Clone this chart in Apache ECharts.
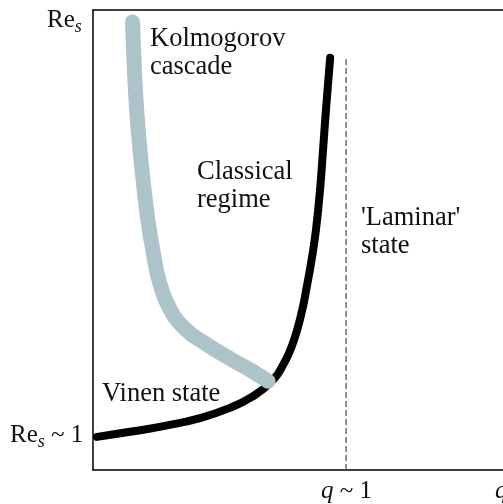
<!DOCTYPE html>
<html><head><meta charset="utf-8">
<script src="https://cdn.jsdelivr.net/npm/echarts@6/dist/echarts.min.js"></script>
<style>html,body{margin:0;padding:0;background:#fff}#c{width:503px;height:504px}</style>
</head><body><div id="c"></div>
<script>
// Boundary between Vinen state and classical regime (black curve)
const blackQ  = [0.016, 0.146, 0.284, 0.423, 0.541, 0.628, 0.699, 0.751, 0.790, 0.822, 0.846, 0.865, 0.881, 0.897, 0.909, 0.921, 0.937];
const blackRe = [0.72, 0.83, 0.96, 1.13, 1.35, 1.59, 1.89, 2.28, 2.76, 3.37, 4.02, 4.61, 5.22, 6.09, 6.96, 7.87, 8.96];
// Kolmogorov cascade boundary (grey curve)
const grayQ  = [0.156, 0.162, 0.170, 0.182, 0.198, 0.217, 0.239, 0.263, 0.302, 0.364, 0.447, 0.545, 0.638, 0.692];
const grayRe = [9.74, 8.91, 8.04, 7.17, 6.30, 5.43, 4.70, 4.08, 3.52, 3.07, 2.74, 2.41, 2.12, 1.93];
// q ~ 1 dashed line
const dashQ = [1, 1];
const dashRe = [0, 8.93];

const zip = (a, b) => a.map((v, i) => [v, b[i]]);
const serif = 'Liberation Serif, Times New Roman, serif';

const chart = echarts.init(document.getElementById('c'), null, {renderer: 'canvas'});
const txt = (left, top, text, size) => ({
  type: 'text', left: left, top: top,
  style: {text: text, font: size + 'px ' + serif, fill: '#111', lineHeight: 28}
});
const rich = (left, top, text) => ({
  type: 'text', left: left, top: top,
  style: {
    text: text, fill: '#111',
    rich: {
      r: {fontFamily: serif, fontSize: 25, lineHeight: 30, verticalAlign: 'top'},
      s: {fontFamily: serif, fontSize: 18, fontStyle: 'italic', lineHeight: 30, padding: [10, 0, 0, 0], verticalAlign: 'top'},
      q: {fontFamily: serif, fontSize: 25, fontStyle: 'italic', lineHeight: 30, verticalAlign: 'top'}
    }
  }
});
const hidden = {axisTick: {show: false}, axisLabel: {show: false}, splitLine: {show: false}};
const axLine = {show: true, lineStyle: {color: '#000', width: 1.5}};

chart.setOption({
  animation: false,
  backgroundColor: '#fff',
  grid: {left: 93, top: 10, right: 0, height: 460, show: false},
  xAxis: [
    Object.assign({type: 'value', min: 0, max: 1.62, position: 'bottom', axisLine: axLine}, hidden),
    Object.assign({type: 'value', min: 0, max: 1.62, position: 'top', axisLine: axLine}, hidden)
  ],
  yAxis: Object.assign({type: 'value', min: 0, max: 10, axisLine: axLine}, hidden),
  series: [
    {type: 'line', data: zip(dashQ, dashRe), symbol: 'none', z: 1,
     lineStyle: {color: '#555', width: 1.3, type: [6, 3]}},
    {type: 'line', data: zip(blackQ, blackRe), symbol: 'none', smooth: 0.5, clip: false, z: 2,
     lineStyle: {color: '#000', width: 8, cap: 'round', join: 'round'}},
    {type: 'line', data: zip(grayQ, grayRe), symbol: 'none', smooth: 0.5, clip: false, z: 3,
     lineStyle: {color: '#adc3ca', width: 15, cap: 'round', join: 'round'}}
  ],
  graphic: [
    txt(150, 25, 'Kolmogorov\ncascade', 26.5),
    txt(197, 158, 'Classical\nregime', 26.5),
    txt(361, 204, "'Laminar'\nstate", 26.5),
    txt(102, 380, 'Vinen state', 26.5),
    rich(47, 8, '{r|Re}{s|s}'),
    rich(10, 423, '{r|Re}{s|s}{r| ~ 1}'),
    rich(321, 479, '{q|q}{r| ~ 1}'),
    rich(495, 479, '{q|q}')
  ]
});
</script>
</body></html>
